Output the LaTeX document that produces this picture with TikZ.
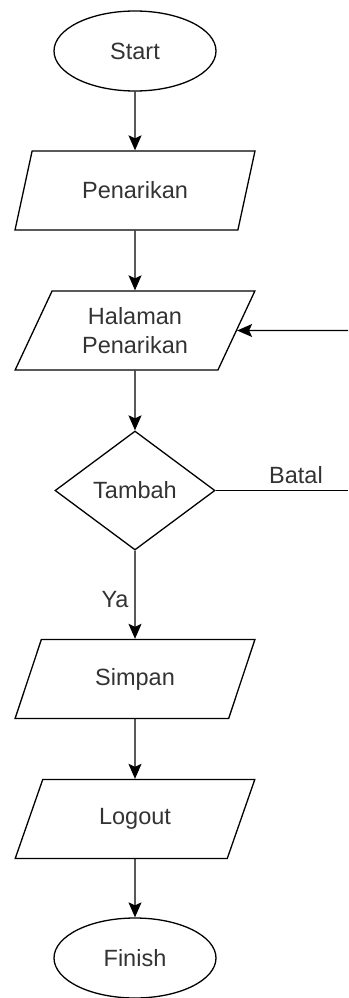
\documentclass[tikz,border=0pt]{standalone}
\usepackage{fontspec}
\setmainfont{Liberation Sans}
\usetikzlibrary{arrows.meta,shapes.geometric}

\begin{document}
\begin{tikzpicture}[
  x=1pt, y=-1pt,
  font=\fontsize{23.5}{29}\selectfont,
  line width=1.3pt,
  text=black!80,
  term/.style={draw, ellipse, minimum width=162pt, minimum height=80pt, inner sep=0pt},
  io/.style={draw, trapezium, trapezium left angle=63, trapezium right angle=117,
    trapezium stretches=true, minimum width=240pt, minimum height=79pt,
    inner sep=0pt, align=center},
  decide/.style={draw, diamond, minimum width=160pt, minimum height=119pt, inner sep=0pt},
  lbl/.style={inner sep=0pt},
  arr/.style={-{Stealth[length=15pt, width=13pt, inset=3pt]}},
]
  \useasboundingbox (0,0) rectangle (348,998);

  % ===== main flow =====
  \node[term] (start) at (135,51) {Start};
  \node[io] (penarikan) at (135,190.5) {Penarikan};
  \node[io] (halaman) at (135,330.5) {Halaman\\Penarikan};
  \node[decide] (tambah) at (135,490.5) {Tambah};
  \node[io] (simpan) at (135,679) {Simpan};
  \node[io] (logout) at (135,819) {Logout};
  \node[term] (finish) at (135,958) {Finish};

  \draw[arr] (start) -- (penarikan);
  \draw[arr] (penarikan) -- (halaman);
  \draw[arr] (halaman) -- (tambah);
  \draw[arr] (tambah) -- (simpan);
  \draw[arr] (simpan) -- (logout);
  \draw[arr] (logout) -- (finish);

  % ===== branches =====
  \coordinate (batalend) at (348,490.5);
  \coordinate (back) at (348,330.5);
  \draw (tambah.east) -- (batalend);
  \draw[arr] (back) -- (halaman);

  \node[lbl] (batal) at (296,475) {Batal};
  \node[lbl] (ya) at (115,600) {Ya};
\end{tikzpicture}
\end{document}
